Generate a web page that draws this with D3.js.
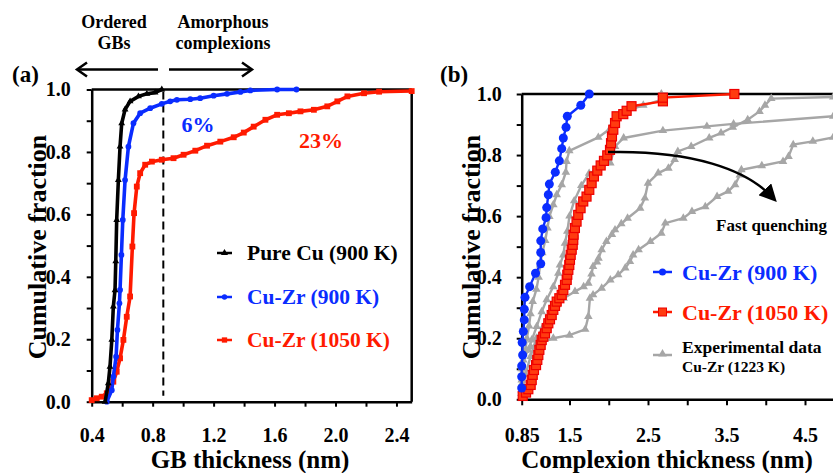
<!DOCTYPE html>
<html><head><meta charset="utf-8">
<script src="https://cdn.jsdelivr.net/npm/d3@7"></script>
<style>
body{margin:0;background:#fff;overflow:hidden}
text{font-family:"Liberation Serif","Times New Roman",serif;font-weight:bold}
</style></head>
<body><svg id="c" width="833" height="473"></svg>
<script>
// ---------- DATA ----------
// Panel (a): GB thickness (nm) vs cumulative fraction
const aPureCu900 = [[0.488,0],[0.509,0.059],[0.52,0.112],[0.532,0.198],[0.542,0.305],[0.553,0.357],[0.558,0.45],[0.564,0.582],[0.575,0.71],[0.586,0.817],[0.597,0.892],[0.619,0.936],[0.652,0.962],[0.707,0.978],[0.762,0.986],[0.816,0.99],[0.86,1.0]];
const aCuZr900 = [[0.499,0],[0.532,0.037],[0.542,0.08],[0.56,0.144],[0.569,0.23],[0.582,0.315],[0.586,0.358],[0.595,0.47],[0.604,0.582],[0.619,0.71],[0.641,0.817],[0.674,0.892],[0.718,0.924],[0.784,0.94],[0.86,0.954],[0.915,0.962],[0.959,0.967],[1.047,0.969],[1.112,0.972],[1.2,0.98],[1.288,0.986],[1.376,0.992],[1.441,0.997],[1.617,1.0],[1.744,1.0]];
const aCuZr1050 = [[0.4,0.005],[0.433,0.011],[0.466,0.016],[0.499,0.027],[0.52,0.043],[0.542,0.064],[0.564,0.096],[0.586,0.139],[0.608,0.198],[0.63,0.272],[0.652,0.337],[0.667,0.497],[0.678,0.604],[0.696,0.689],[0.718,0.732],[0.751,0.759],[0.795,0.769],[0.86,0.775],[0.937,0.78],[1.003,0.791],[1.08,0.804],[1.157,0.82],[1.244,0.833],[1.332,0.847],[1.398,0.862],[1.463,0.881],[1.54,0.903],[1.617,0.919],[1.694,0.924],[1.77,0.93],[1.858,0.935],[1.946,0.946],[2.012,0.962],[2.078,0.978],[2.187,0.988],[2.286,0.993],[2.5,0.995]];
const aDivider = 0.87;
const aXTicks = [0.4,0.8,1.2,1.6,2.0,2.4];
const aXMinor = [0.4,0.6,0.8,1.0,1.2,1.4,1.6,1.8,2.0,2.2,2.4];
const yTicks = [0,0.1,0.2,0.3,0.4,0.5,0.6,0.7,0.8,0.9,1.0];
const yLabels = [0,0.2,0.4,0.6,0.8,1.0];

// Panel (b): complexion thickness (nm) vs cumulative fraction
const bCuZr900 = [[0.85,0.037],[0.85,0.074],[0.85,0.109],[0.863,0.145],[0.856,0.186],[0.872,0.222],[0.885,0.26],[0.885,0.295],[0.895,0.334],[0.958,0.369],[1.038,0.413],[1.109,0.444],[1.109,0.481],[1.109,0.519],[1.136,0.558],[1.181,0.595],[1.19,0.628],[1.212,0.67],[1.226,0.705],[1.307,0.744],[1.362,0.781],[1.394,0.821],[1.416,0.856],[1.453,0.891],[1.47,0.927],[1.644,0.963],[1.752,1.0]];
const bCuZr1050 = [[0.864,0.011],[0.909,0.022],[0.94,0.033],[0.972,0.047],[0.986,0.063],[1.0,0.08],[1.017,0.096],[1.045,0.112],[1.062,0.129],[1.076,0.145],[1.09,0.162],[1.108,0.178],[1.122,0.194],[1.144,0.205],[1.167,0.216],[1.19,0.233],[1.212,0.249],[1.235,0.262],[1.258,0.276],[1.28,0.293],[1.303,0.306],[1.326,0.32],[1.362,0.331],[1.394,0.342],[1.416,0.358],[1.439,0.375],[1.462,0.391],[1.47,0.408],[1.484,0.424],[1.497,0.44],[1.506,0.457],[1.515,0.473],[1.528,0.49],[1.541,0.506],[1.548,0.522],[1.552,0.539],[1.569,0.561],[1.59,0.582],[1.611,0.604],[1.641,0.626],[1.675,0.648],[1.717,0.664],[1.752,0.686],[1.782,0.708],[1.811,0.73],[1.854,0.749],[1.897,0.766],[1.939,0.781],[1.981,0.799],[2.016,0.817],[2.029,0.839],[2.041,0.861],[2.058,0.883],[2.08,0.905],[2.1,0.927],[2.185,0.934],[2.228,0.945],[2.29,0.96],[2.69,0.976],[2.69,0.988],[3.6,1.0]];
const bExp1 = [[0.85,0.03],[0.85,0.05],[0.87,0.1],[0.9,0.16],[0.92,0.2],[0.95,0.24],[0.97,0.28],[1.0,0.32],[1.05,0.36],[1.08,0.4],[1.1,0.44],[1.13,0.48],[1.17,0.52],[1.2,0.561],[1.226,0.599],[1.28,0.637],[1.326,0.67],[1.394,0.703],[1.45,0.744],[1.46,0.779],[1.497,0.814],[1.867,0.858],[2.016,0.886],[2.08,0.905],[2.2,0.943],[2.44,0.963],[2.67,0.981],[2.67,1.0]];
const bExp2 = [[0.85,0.02],[0.9,0.08],[0.97,0.14],[1.05,0.2],[1.15,0.24],[1.24,0.28],[1.33,0.31],[1.42,0.331],[1.57,0.353],[1.68,0.369],[1.74,0.38],[1.78,0.41],[1.8,0.435],[1.85,0.45],[1.87,0.462],[1.91,0.49],[1.97,0.517],[2.04,0.54],[2.08,0.555],[2.16,0.575],[2.24,0.593],[2.4,0.626],[2.46,0.659],[2.5,0.708],[2.63,0.741],[2.76,0.757],[2.84,0.785],[2.88,0.812],[3.05,0.828],[3.28,0.856],[3.43,0.872],[3.58,0.891],[3.77,0.916],[3.92,0.943],[3.99,0.963],[4.07,0.985],[4.86,0.99],[5.4,0.99]];
const bExp3 = [[0.85,0.02],[0.85,0.063],[0.872,0.129],[0.94,0.162],[0.986,0.194],[1.054,0.238],[1.122,0.287],[1.19,0.326],[1.28,0.369],[1.348,0.413],[1.37,0.44],[1.416,0.473],[1.439,0.511],[1.47,0.55],[1.5,0.6],[1.56,0.65],[1.65,0.7],[1.75,0.74],[1.9,0.76],[2.02,0.774],[2.08,0.828],[2.19,0.856],[2.69,0.88],[3.25,0.894],[3.59,0.902],[4.86,0.927],[5.4,0.935]];
const bExp4 = [[0.85,0.1],[0.872,0.151],[0.969,0.172],[1.28,0.2],[1.5,0.21],[1.7,0.229],[1.74,0.271],[1.76,0.331],[1.8,0.342],[1.91,0.364],[2.02,0.391],[2.12,0.408],[2.21,0.43],[2.27,0.451],[2.31,0.473],[2.38,0.49],[2.53,0.517],[2.67,0.544],[2.72,0.577],[2.95,0.593],[3.06,0.615],[3.23,0.631],[3.38,0.664],[3.52,0.681],[3.61,0.703],[3.67,0.735],[3.69,0.752],[3.95,0.765],[4.22,0.779],[4.29,0.795],[4.35,0.834],[4.6,0.845],[4.86,0.858],[5.4,0.87]];
const bXTicks = [0.85,1.5,2.0,2.5,3.0,3.5,4.0,4.5,5.0];
const bXLabels = [0.85,1.5,2.5,3.5,4.5];

// ---------- DRAW ----------
const svg = d3.select("#c");
const BLUE="#0a2cff", RED="#ff1a00", GRAY="#a6a6a6";

const xA = d3.scaleLinear().domain([0.4,2.5]).range([91.7,411.7]);
const yA = d3.scaleLinear().domain([0,1]).range([401.7,89.5]);
const xB = d3.scaleLinear().domain([0.85,1.5,4.5,5.5]).range([521.7,569.5,805,883.5]);
const yB = d3.scaleLinear().domain([0,1]).range([399.3,94]);

const TICKFS = 20;
function styleAxis(g, fs){
  g.select(".domain").attr("stroke","#000").attr("stroke-width",2.5);
  g.selectAll(".tick line").attr("stroke","#000").attr("stroke-width",2);
  g.selectAll(".tick text").attr("font-size",fs).attr("font-family",'"Liberation Serif",serif').attr("font-weight","bold").attr("fill","#000");
}
const fmt1 = d=> (yLabels.some(v=>Math.abs(v-d)<1e-9) ? d.toFixed(1) : "");

// ---- Panel A ----
const gA = svg.append("g");
gA.append("g").attr("transform","translate(91.7,0)")
  .call(d3.axisLeft(yA).tickValues(yTicks).tickFormat(fmt1).tickSize(5).tickSizeOuter(0).tickPadding(16))
  .call(g=>styleAxis(g,TICKFS));
gA.append("g").attr("transform","translate(0,401.7)")
  .call(d3.axisBottom(xA).tickValues(aXMinor).tickFormat(d=>aXTicks.some(v=>Math.abs(v-d)<1e-9)?d.toFixed(1):"").tickSize(5).tickSizeOuter(0).tickPadding(21))
  .call(g=>styleAxis(g,TICKFS));
gA.append("line").attr("x1",xA(0.4)).attr("x2",xA(2.5)).attr("y1",yA(1)).attr("y2",yA(1)).attr("stroke","#000").attr("stroke-width",2.5);
gA.append("line").attr("x1",xA(2.5)).attr("x2",xA(2.5)).attr("y1",yA(1)).attr("y2",yA(0)).attr("stroke","#000").attr("stroke-width",2.5);

gA.append("line").attr("x1",xA(aDivider)).attr("x2",xA(aDivider)).attr("y1",yA(1)+2).attr("y2",yA(0)-6)
  .attr("stroke","#000").attr("stroke-width",2).attr("stroke-dasharray","8,5");

const lineA = d3.line().x(d=>xA(d[0])).y(d=>yA(d[1]));
function seriesA(data,color,shape){
  gA.append("path").datum(data).attr("d",lineA).attr("fill","none").attr("stroke",color).attr("stroke-width",3.6);
  const sym = d3.symbol().type(shape).size(shape===d3.symbolSquare?34:(shape===d3.symbolCircle?26:20));
  gA.append("g").selectAll("path").data(data).join("path")
    .attr("transform",d=>`translate(${xA(d[0])},${yA(d[1])})`).attr("d",sym).attr("fill",color);
}
seriesA(aCuZr1050,RED,d3.symbolSquare);
seriesA(aCuZr900,BLUE,d3.symbolCircle);
seriesA(aPureCu900,"#000",d3.symbolTriangle);

const legA = [["Pure Cu (900 K)","#000",d3.symbolTriangle,253],["Cu-Zr (900 K)",BLUE,d3.symbolCircle,297],["Cu-Zr (1050 K)",RED,d3.symbolSquare,340]];
legA.forEach(([t,c,s,y])=>{
  gA.append("line").attr("x1",217).attr("x2",232).attr("y1",y).attr("y2",y).attr("stroke",c).attr("stroke-width",2.5);
  gA.append("path").attr("transform",`translate(224.5,${y})`).attr("d",d3.symbol().type(s).size(s===d3.symbolSquare?28:22)()).attr("fill",c);
  gA.append("text").attr("x",247).attr("y",y+7).attr("font-size",21.5).attr("fill",c).text(t);
});
gA.append("text").attr("x",198).attr("y",132).attr("text-anchor","middle").attr("font-size",22).attr("fill",BLUE).text("6%");
gA.append("text").attr("x",321).attr("y",148).attr("text-anchor","middle").attr("font-size",22).attr("fill",RED).text("23%");

svg.append("text").attr("x",114).attr("y",28).attr("text-anchor","middle").attr("font-size",18).text("Ordered");
svg.append("text").attr("x",114).attr("y",49).attr("text-anchor","middle").attr("font-size",18).text("GBs");
svg.append("text").attr("x",223).attr("y",28).attr("text-anchor","middle").attr("font-size",18).text("Amorphous");
svg.append("text").attr("x",223).attr("y",49).attr("text-anchor","middle").attr("font-size",18).text("complexions");
function arrowH(x1,x2,y){
  const dir = Math.sign(x2-x1);
  svg.append("line").attr("x1",x1).attr("x2",x2).attr("y1",y).attr("y2",y).attr("stroke","#000").attr("stroke-width",2.5);
  svg.append("path").attr("d",`M${x2-dir*10},${y-7} L${x2},${y} L${x2-dir*10},${y+7}`).attr("fill","none").attr("stroke","#000").attr("stroke-width",2.5);
}
arrowH(158,77,69.5);
arrowH(169,252,69.5);
svg.append("text").attr("x",12).attr("y",82).attr("font-size",23).text("(a)");
svg.append("text").attr("x",440).attr("y",82).attr("font-size",23).text("(b)");

svg.append("text").attr("transform","translate(46,247) rotate(-90)").attr("text-anchor","middle").attr("font-size",26).text("Cumulative fraction");
svg.append("text").attr("x",250).attr("y",468).attr("text-anchor","middle").attr("font-size",25).text("GB thickness (nm)");

// ---- Panel B ----
const gB = svg.append("g");
gB.append("g").attr("transform","translate(521.7,0)")
  .call(d3.axisLeft(yB).tickValues(yTicks).tickFormat(fmt1).tickSize(5).tickSizeOuter(0).tickPadding(15))
  .call(g=>styleAxis(g,TICKFS));
gB.append("g").attr("transform","translate(0,399.3)")
  .call(d3.axisBottom(xB).tickValues(bXTicks).tickFormat(d=>bXLabels.includes(d)?(d===0.85?"0.85":d.toFixed(1)):"").tickSize(6).tickSizeOuter(0).tickPadding(23))
  .call(g=>styleAxis(g,TICKFS));
gB.append("line").attr("x1",xB(0.85)).attr("x2",xB(5.5)).attr("y1",yB(1)).attr("y2",yB(1)).attr("stroke","#000").attr("stroke-width",2.5);

const lineB = d3.line().x(d=>xB(d[0])).y(d=>yB(d[1]));
const triSym = d3.symbol().type(d3.symbolTriangle).size(32);
[bExp4,bExp3,bExp2,bExp1].forEach(data=>{
  gB.append("path").datum(data).attr("d",lineB).attr("fill","none").attr("stroke",GRAY).attr("stroke-width",2.4);
  gB.append("g").selectAll("path").data(data.filter(d=>d[0]<5.0)).join("path")
    .attr("transform",d=>`translate(${xB(d[0])},${yB(d[1])})`).attr("d",triSym).attr("fill",GRAY);
});
gB.append("path").datum(bCuZr1050).attr("d",lineB).attr("fill","none").attr("stroke",RED).attr("stroke-width",2.4);
gB.append("g").selectAll("rect").data(bCuZr1050).join("rect")
  .attr("x",d=>xB(d[0])-4.5).attr("y",d=>yB(d[1])-4.5).attr("width",9).attr("height",9)
  .attr("fill","#ff3b10").attr("stroke","#ee0000").attr("stroke-width",1.2);
gB.append("path").datum(bCuZr900).attr("d",lineB).attr("fill","none").attr("stroke",BLUE).attr("stroke-width",2.4);
gB.append("g").selectAll("circle").data(bCuZr900).join("circle")
  .attr("cx",d=>xB(d[0])).attr("cy",d=>yB(d[1])).attr("r",4.5).attr("fill",BLUE);

const defs = svg.append("defs");
defs.append("marker").attr("id","ah").attr("viewBox","0 0 10 10").attr("refX",6).attr("refY",5)
  .attr("markerWidth",7).attr("markerHeight",7).attr("orient","auto")
  .append("path").attr("d","M0,0 L10,5 L0,10 z").attr("fill","#000");
gB.append("path").attr("d","M608,152 L620,152 C690,152 745,168 772,197").attr("fill","none").attr("stroke","#000").attr("stroke-width",2.5).attr("marker-end","url(#ah)");
gB.append("text").attr("x",716).attr("y",231).attr("font-size",17).text("Fast quenching");

[["Cu-Zr (900 K)",BLUE,272,"c"],["Cu-Zr (1050 K)",RED,312,"s"]].forEach(([t,c,y,m])=>{
  gB.append("line").attr("x1",653).attr("x2",672).attr("y1",y).attr("y2",y).attr("stroke",c).attr("stroke-width",2.5);
  if(m==="c") gB.append("circle").attr("cx",662.5).attr("cy",y).attr("r",3.5).attr("fill",c);
  else gB.append("rect").attr("x",658.5).attr("y",y-4).attr("width",8).attr("height",8).attr("fill","#ff3b10").attr("stroke","#ee0000");
  gB.append("text").attr("x",682).attr("y",y+8).attr("font-size",22).attr("fill",c).text(t);
});
gB.append("line").attr("x1",653).attr("x2",672).attr("y1",355).attr("y2",355).attr("stroke",GRAY).attr("stroke-width",2.5);
gB.append("path").attr("transform","translate(662.5,354)").attr("d",triSym).attr("fill",GRAY);
gB.append("text").attr("x",682).attr("y",353).attr("font-size",17.5).text("Experimental data");
gB.append("text").attr("x",682).attr("y",372).attr("font-size",15.5).text("Cu-Zr (1223 K)");

svg.append("text").attr("transform","translate(480,247) rotate(-90)").attr("text-anchor","middle").attr("font-size",26).text("Cumulative fraction");
svg.append("text").attr("x",667).attr("y",468).attr("text-anchor","middle").attr("font-size",25).text("Complexion thickness (nm)");
</script></body></html>
